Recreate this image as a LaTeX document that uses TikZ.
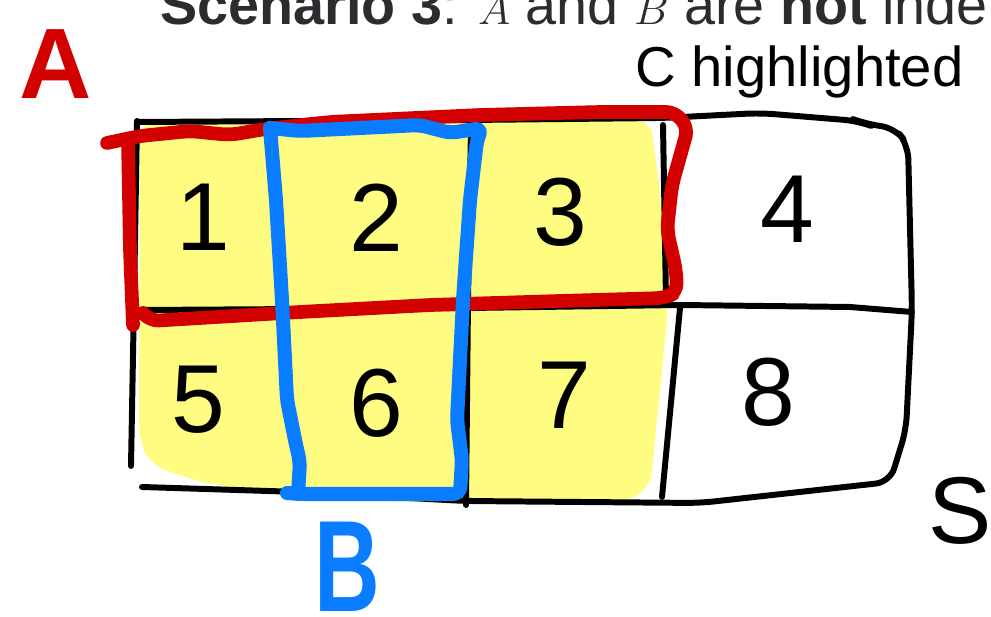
\documentclass[tikz,border=0pt]{standalone}
\usepackage{fontspec}
\setmainfont{Liberation Sans}
\usepackage{tikz}
\usetikzlibrary{positioning}
\definecolor{penred}{HTML}{D30000}
\definecolor{penblue}{HTML}{0A7CFF}
\definecolor{marker}{HTML}{FFFC82}
\definecolor{titlegray}{HTML}{2C2C30}

\begin{document}
\begin{tikzpicture}[x=0.02cm, y=-0.02cm,
    ink/.style={draw=black, line width=3.4pt, line cap=round, line join=round},
    loopred/.style={draw=penred, line width=7.8pt, line cap=round, line join=round, rounded corners=5pt},
    loopblue/.style={draw=penblue, line width=8pt, line cap=round, line join=round, rounded corners=4pt},
    digit/.style={inner sep=0pt, font=\fontsize{55}{60}\selectfont}]
\useasboundingbox (0,0) rectangle (991,617);
\clip (0,0) rectangle (991,617);

% highlighted region C
\fill[marker, rounded corners=10pt] (140,121) -- (650,118) -- (660,190) -- (668,310) -- (656,430) -- (650,490) -- (620,503) -- (470,504) -- (300,498) -- (200,482) -- (150,465) -- (139,440) -- cycle;

% sample space grid
\draw[ink, rounded corners=8pt] (138,122) -- (470,120) -- (663,118) -- (760,113) -- (858,121) -- (866,124) -- (895,128) -- (908,145) -- (912,310) -- (906,430) -- (890,482) -- (700,503) -- (465,501) -- (300,492) -- (142,487);
\draw[ink] (137,121) -- (134,300) -- (131,466);
\draw[ink] (140,310) -- (470,308) -- (680,305) -- (850,307) -- (912,312);
\draw[ink] (471,128) -- (468,300) -- (466,505);
\draw[ink] (663,125) -- (666,300);
\draw[ink] (680,308) -- (662,497);

% event A
\draw[loopred] (107,143) -- (140,136) -- (190,131) -- (230,135) -- (265,129) -- (330,122) -- (480,115) -- (600,112) -- (675,112) -- (688,128) -- (672,185) -- (667,230) -- (676,270) -- (677,292) -- (665,298) -- (560,301) -- (430,305) -- (300,312) -- (150,321) -- (143,313);
\draw[loopred] (128,140) -- (130,250) -- (133,325);

% event B
\draw[loopblue] (270,128) -- (300,131) -- (420,125) -- (450,133) -- (482,128) -- (477,140) -- (470,200) -- (463,300) -- (457,420) -- (462,460) -- (460,494) -- (300,494) -- (287,493);
\draw[loopblue] (270,128) -- (276,200) -- (282,300) -- (287,400) -- (296,445) -- (300,462) -- (298,494);

% outcomes
\node[digit] (n1) at (203,217) {1};
\node[digit] (n2) at (376,218) {2};
\node[digit] (n3) at (560,212) {3};
\node[digit] (n4) at (787,209) {4};
\node[digit] (n5) at (198,400) {5};
\node[digit] (n6) at (376,403) {6};
\node[digit] (n7) at (564,395) {7};
\node[digit] (n8) at (768,392) {8};

% labels
\node[anchor=base west, inner sep=0pt, text=titlegray, font=\fontsize{31.7}{36}\selectfont] (title) at (160,25) {\textbf{Scenario 3}: $A$ and $B$ are \textbf{not} inde};
\node[anchor=base west, inner sep=0pt, font=\fontsize{32}{36}\selectfont] (clabel) at (635,87) {C highlighted};
\node[inner sep=0pt, text=penred, font=\fontsize{57}{60}\selectfont\bfseries] (alabel) at (56,64) {A};
\node[inner sep=0pt, text=penblue, xscale=0.7, font=\fontsize{74}{80}\selectfont\bfseries] (blabel) at (347,567) {B};
\node[inner sep=0pt, font=\fontsize{54}{60}\selectfont] (slabel) at (960,511) {S};
\end{tikzpicture}
\end{document}
